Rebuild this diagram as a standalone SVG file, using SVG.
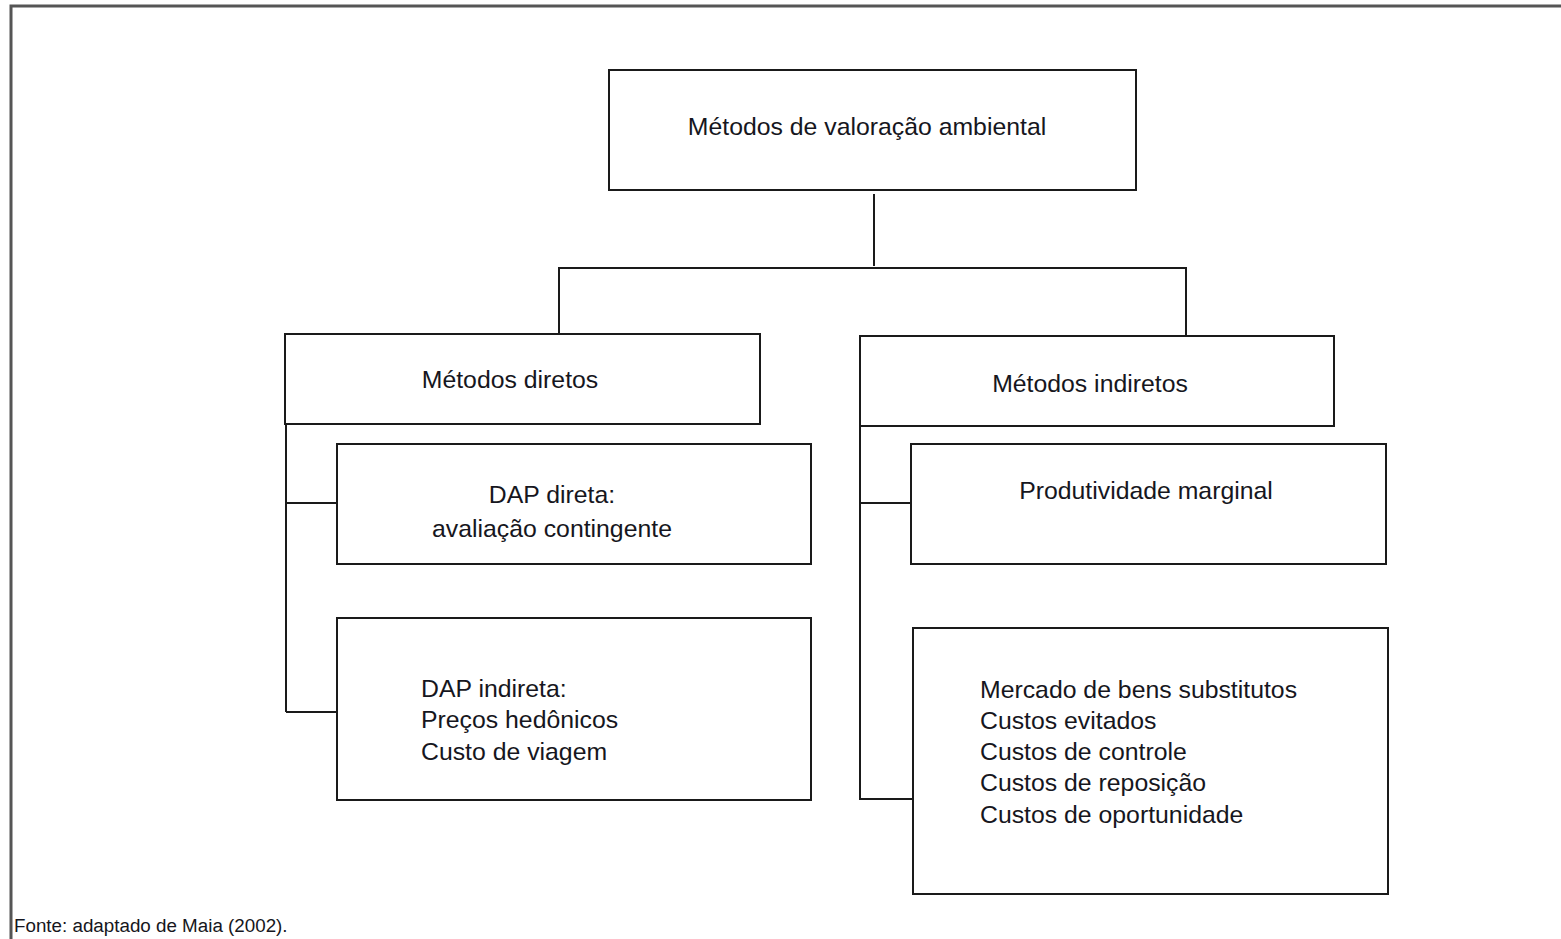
<svg xmlns="http://www.w3.org/2000/svg" width="1561" height="939" viewBox="0 0 1561 939">
<style>
.box{fill:#fff;stroke:#1a1a1a;stroke-width:2}
.ln{fill:none;stroke:#1a1a1a;stroke-width:2}
.t{font-family:"Liberation Sans",Arial,sans-serif;font-size:24.8px;fill:#161620}
.c{text-anchor:middle}
.f{font-family:"Liberation Sans",Arial,sans-serif;font-size:18.8px;fill:#161620}
</style>
<rect width="1561" height="939" fill="#fff"/>
<path d="M11,945 V6 H1570" fill="none" stroke="#555" stroke-width="3"/>
<g id="connectors">
<path class="ln" d="M874,194 V266"/>
<path class="ln" d="M559,334 V268 H1186 V336"/>
<path class="ln" d="M286,424 V712"/>
<path class="ln" d="M286,503 H337"/>
<path class="ln" d="M286,712 H337"/>
<path class="ln" d="M860,426 V800"/>
<path class="ln" d="M860,503 H911"/>
<path class="ln" d="M860,799 H913"/>
</g>
<g id="root">
<rect class="box" x="609" y="70" width="527" height="120"/>
<text class="t c" x="867" y="135">Métodos de valoração ambiental</text>
</g>
<g id="diretos">
<rect class="box" x="285" y="334" width="475" height="90"/>
<text class="t c" x="510" y="388">Métodos diretos</text>
</g>
<g id="indiretos">
<rect class="box" x="860" y="336" width="474" height="90"/>
<text class="t c" x="1090" y="392">Métodos indiretos</text>
</g>
<g id="dap-direta">
<rect class="box" x="337" y="444" width="474" height="120"/>
<text class="t c" x="552" y="503">DAP direta:</text>
<text class="t c" x="552" y="537">avaliação contingente</text>
</g>
<g id="dap-indireta">
<rect class="box" x="337" y="618" width="474" height="182"/>
<text class="t" x="421" y="697">DAP indireta:</text>
<text class="t" x="421" y="728">Preços hedônicos</text>
<text class="t" x="421" y="760">Custo de viagem</text>
</g>
<g id="produtividade">
<rect class="box" x="911" y="444" width="475" height="120"/>
<text class="t c" x="1146" y="499">Produtividade marginal</text>
</g>
<g id="outros">
<rect class="box" x="913" y="628" width="475" height="266"/>
<text class="t" x="980" y="698">Mercado de bens substitutos</text>
<text class="t" x="980" y="729">Custos evitados</text>
<text class="t" x="980" y="760">Custos de controle</text>
<text class="t" x="980" y="791">Custos de reposição</text>
<text class="t" x="980" y="823">Custos de oportunidade</text>
</g>
<text class="f" x="14" y="932">Fonte: adaptado de Maia (2002).</text>
</svg>
